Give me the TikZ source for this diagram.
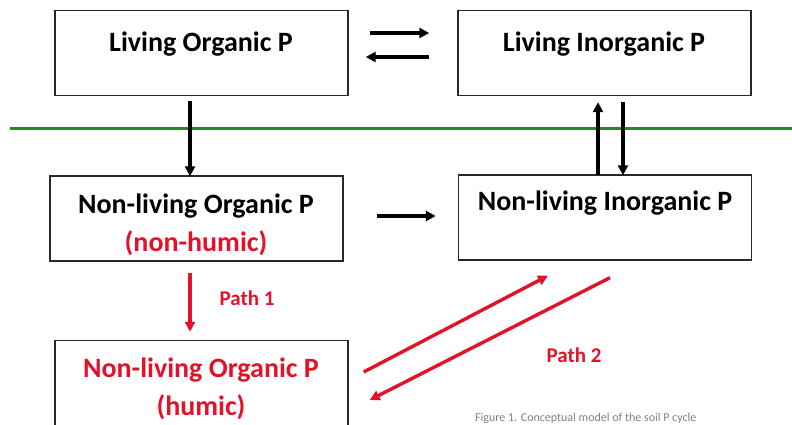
\documentclass[tikz,border=0pt]{standalone}
\usepackage{fontspec}
\setmainfont{Carlito}
\usetikzlibrary{arrows.meta}
\definecolor{myred}{RGB}{228,18,40}
\definecolor{mygreen}{RGB}{34,139,34}
\definecolor{edge}{RGB}{40,40,40}
\begin{document}
\begin{tikzpicture}[x=1pt,y=-1pt,
  box/.style={draw=edge, line width=1.4pt, minimum width=293pt, minimum height=85pt, inner sep=0pt},
  lbl/.style={font=\fontsize{28}{32}\selectfont\bfseries, inner sep=0pt, anchor=base},
  plbl/.style={font=\fontsize{21}{24}\selectfont\bfseries, text=myred, inner sep=0pt, anchor=base},
  arr/.style={line width=3.4pt, -{Triangle[length=10pt,width=10pt]}},
  rarr/.style={arr, color=myred}]
\useasboundingbox (0,0) rectangle (792,425);
\clip (0,0) rectangle (792,425);
% boxes
\node[box] (lop) at (201.5,53) {};
\node[box] (lip) at (604.5,53) {};
\node[box] (nlop) at (196.5,218.5) {};
\node[box] (nlip) at (605,217.5) {};
\node[box] (hum) at (201.5,383) {};
% texts
\node[lbl] (t1) at (201,52) {Living Organic P};
\node[lbl] (t2) at (604,52) {Living Inorganic P};
\node[lbl] (t3) at (196,213) {Non-living Organic P};
\node[lbl, text=myred] (t3b) at (196,251) {(non-humic)};
\node[lbl] (t4) at (605,210) {Non-living Inorganic P};
\node[lbl, text=myred] (t5) at (201,377) {Non-living Organic P};
\node[lbl, text=myred] (t5b) at (201,415) {(humic)};
\node[plbl] (p1) at (247,305) {Path 1};
\node[plbl] (p2) at (574,362) {Path 2};
% green line
\draw[mygreen, line width=3.2pt] (10,128.5) -- (792,128.5);
% black arrows
\draw[arr] ([xshift=21pt,yshift=20pt]lop.east) -- ([xshift=-28pt,yshift=20pt]lip.west);
\draw[arr] ([xshift=-28pt,yshift=-4pt]lip.west) -- ([xshift=17pt,yshift=-4pt]lop.east);
\draw[arr] ([xshift=-11.5pt,yshift=-5pt]lop.south) -- ([xshift=-6.5pt,yshift=-1pt]nlop.north);
\draw[arr] ([xshift=-7pt,yshift=-1pt]nlip.north) -- ([xshift=-6.5pt,yshift=-6pt]lip.south);
\draw[arr] ([xshift=18.5pt,yshift=-6pt]lip.south) -- ([xshift=18pt,yshift=-1pt]nlip.north);
\draw[arr] ([xshift=33pt,yshift=2.5pt]nlop.east) -- ([xshift=-22pt,yshift=1.5pt]nlip.west);
% red arrows
\draw[rarr] ([xshift=-6.5pt,yshift=-11pt]nlop.south) -- ([xshift=-11.5pt,yshift=8pt]hum.north);
\draw[rarr] ([xshift=15pt,yshift=11pt]hum.east) -- ([xshift=-57pt,yshift=-15pt]nlip.south);
\draw[rarr] ([xshift=5pt,yshift=-17pt]nlip.south) -- ([xshift=21pt,yshift=-17pt]hum.east);
% caption
\node[anchor=base west, inner sep=0pt, text=gray, font=\fontsize{12}{14}\selectfont] (cap) at (475,421) {Figure 1. Conceptual model of the soil P cycle};
\end{tikzpicture}
\end{document}
